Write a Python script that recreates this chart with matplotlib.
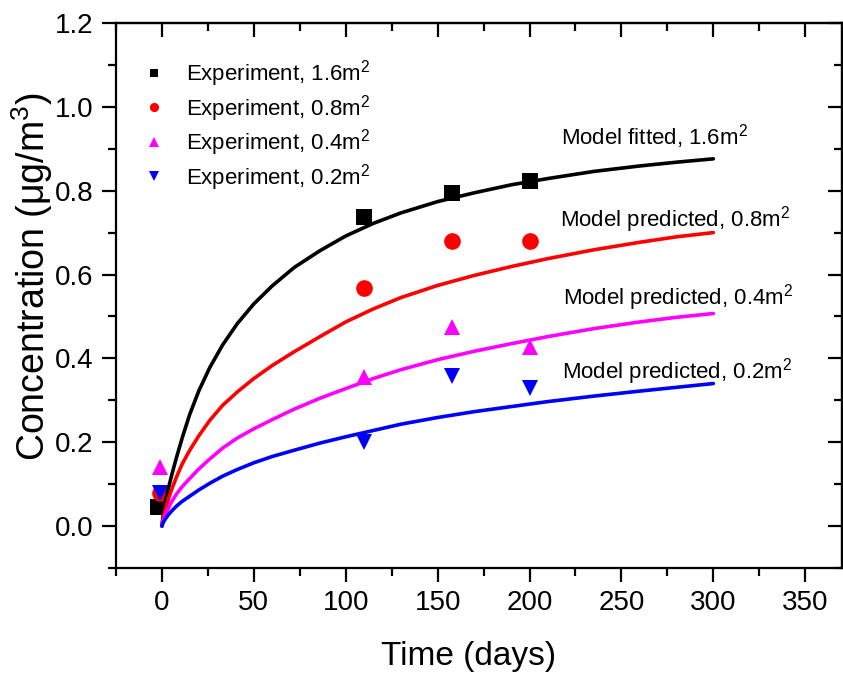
import numpy as np
import matplotlib
matplotlib.use('Agg')
import matplotlib.pyplot as plt
from matplotlib.ticker import FormatStrFormatter

plt.rcParams['font.family'] = ['Liberation Sans', 'DejaVu Sans']
plt.rcParams['mathtext.fontset'] = 'custom'
plt.rcParams['mathtext.rm'] = 'Liberation Sans'
plt.rcParams['mathtext.it'] = 'Liberation Sans'

# experiment points (days, ug/m3)
exp_labels = ['Experiment, 1.6m$^2$', 'Experiment, 0.8m$^2$',
              'Experiment, 0.4m$^2$', 'Experiment, 0.2m$^2$']
exp_t16 = [-2, 110, 158, 200]
exp_t = [-1, 110, 158, 200]
exp_c16 = [0.045, 0.738, 0.795, 0.824]
exp_c08 = [0.080, 0.569, 0.681, 0.681]
exp_c04 = [0.140, 0.355, 0.476, 0.428]
exp_c02 = [0.080, 0.200, 0.357, 0.329]

# model curves
model_t = [0, 0.5, 1, 2, 3.5, 5.5, 8, 11, 15, 20, 26, 33, 41, 50, 60, 72, 86,
           100, 115, 130, 150, 170, 190, 210, 235, 260, 280, 300]
model_16 = [0.0, 0.02, 0.035, 0.06, 0.09, 0.125, 0.165, 0.21, 0.265, 0.322, 0.378,
            0.432, 0.483, 0.53, 0.573, 0.617, 0.657, 0.692, 0.722, 0.747, 0.774,
            0.795, 0.814, 0.829, 0.846, 0.859, 0.868, 0.876]
model_08 = [0.0, 0.015, 0.025, 0.042, 0.065, 0.09, 0.118, 0.148, 0.18, 0.215, 0.252,
            0.288, 0.32, 0.352, 0.383, 0.416, 0.452, 0.487, 0.518, 0.545, 0.574,
            0.598, 0.619, 0.638, 0.659, 0.677, 0.69, 0.70]
model_04 = [0.0, 0.01, 0.017, 0.028, 0.043, 0.06, 0.077, 0.094, 0.113, 0.136, 0.16,
            0.186, 0.21, 0.232, 0.254, 0.279, 0.305, 0.328, 0.352, 0.373, 0.397,
            0.417, 0.435, 0.452, 0.471, 0.487, 0.498, 0.507]
model_02 = [0.0, 0.007, 0.011, 0.018, 0.027, 0.037, 0.048, 0.059, 0.071, 0.086, 0.102,
            0.119, 0.135, 0.151, 0.166, 0.181, 0.198, 0.213, 0.228, 0.243, 0.259,
            0.273, 0.285, 0.297, 0.31, 0.322, 0.331, 0.34]
model_labels = ['Model fitted, 1.6m$^2$', 'Model predicted, 0.8m$^2$',
                'Model predicted, 0.4m$^2$', 'Model predicted, 0.2m$^2$']

colors = ['black', '#FF0000', '#FF00FF', '#0000FF']
markers = ['s', 'o', '^', 'v']
msizes = [11, 12, 12, 12]

fig = plt.figure(figsize=(8.43, 6.75), dpi=100)
ax = fig.add_axes([116/843, 1 - 568/675, 726/843, 545/675])

exp_x = [exp_t16, exp_t, exp_t, exp_t]
exp_c = [exp_c16, exp_c08, exp_c04, exp_c02]
for i in range(4):
    ax.plot(exp_x[i], exp_c[i], linestyle='none', marker=markers[i], color=colors[i],
            markersize=msizes[i], markeredgewidth=0, label=exp_labels[i], zorder=2)

models = [model_16, model_08, model_04, model_02]
for i in range(4):
    ax.plot(model_t, models[i], color=colors[i], lw=2.6, zorder=3,
            solid_capstyle='round', solid_joinstyle='round')

# curve labels
lab_pos = [(217, 0.909), (216.5, 0.714), (218, 0.529), (217.5, 0.352)]
for (x, y), s in zip(lab_pos, model_labels):
    ax.text(x, y, s, fontsize=16, ha='left', va='baseline')

ax.set_xlim(-25, 370)
ax.set_ylim(-0.1, 1.2)
xmaj = np.arange(0, 351, 50)
xmin = np.arange(-25, 370, 25)
ymaj = np.arange(0, 1.21, 0.2)
ymin = np.arange(-0.1, 1.21, 0.1)
ax.set_xticks(xmaj)
ax.set_xticks(xmin, minor=True)
ax.set_yticks(ymaj)
ax.set_yticks(ymin, minor=True)
ax.yaxis.set_major_formatter(FormatStrFormatter('%.1f'))

for sp in ax.spines.values():
    sp.set_linewidth(1.6)
ax.tick_params(which='major', direction='out', length=10, width=1.6, labelsize=20, pad=6)
ax.tick_params(which='minor', direction='out', length=6, width=1.6)

# mirrored ticks pointing inwards on top and right
top = ax.secondary_xaxis('top')
top.set_xticks(xmaj, labels=[])
top.set_xticks(xmin, minor=True)
top.tick_params(which='major', direction='in', length=10, width=1.6)
top.tick_params(which='minor', direction='in', length=6, width=1.6)
right = ax.secondary_yaxis('right')
right.set_yticks(ymaj, labels=[])
right.set_yticks(ymin, minor=True)
right.tick_params(which='major', direction='in', length=10, width=1.6)
right.tick_params(which='minor', direction='in', length=6, width=1.6)
for s in (top, right):
    for sp in s.spines.values():
        sp.set_linewidth(1.6)

ax.set_xlabel('Time (days)', fontsize=24, labelpad=18)
ax.xaxis.label.set_x(0.486)
ax.set_ylabel('Concentration (μg/m$^3$)', fontsize=27, labelpad=0)
ax.yaxis.label.set_y(0.534)

ax.legend(loc='upper left', bbox_to_anchor=(0.007, 0.972), frameon=False, fontsize=16,
          markerscale=0.55, handlelength=1.2, handletextpad=0.8, labelspacing=0.16,
          borderaxespad=0.5)

fig.savefig('out.png', dpi=100)
